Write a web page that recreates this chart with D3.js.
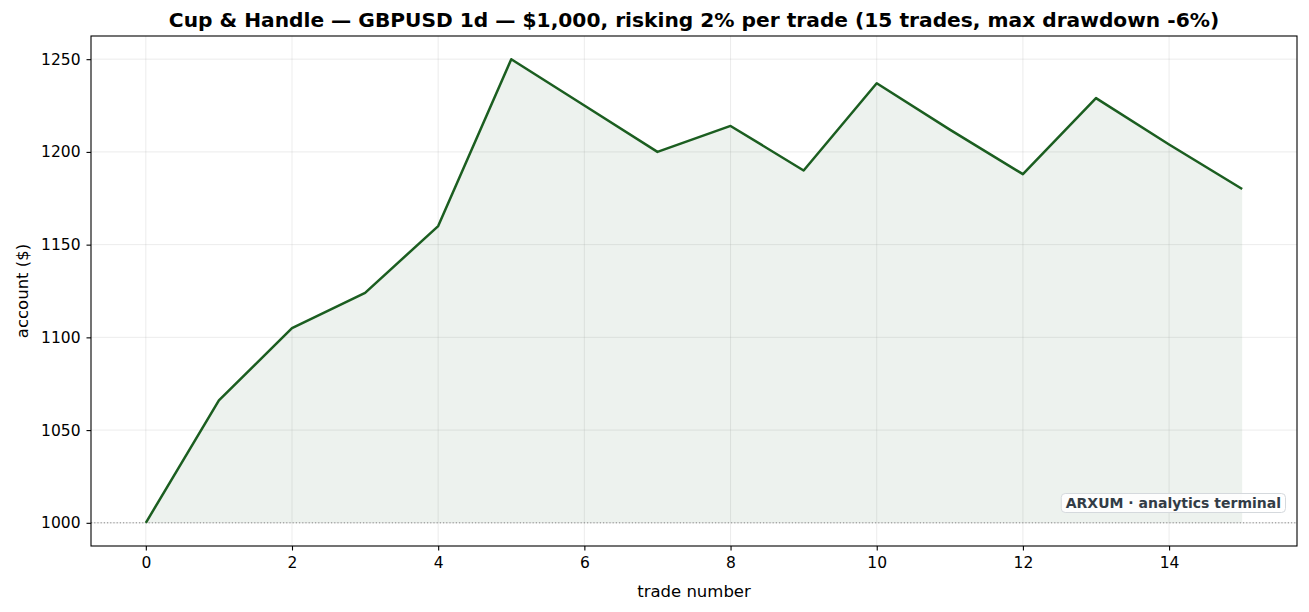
<!DOCTYPE html>
<html>
<head>
<meta charset="utf-8">
<script src="https://cdn.jsdelivr.net/npm/d3@7"></script>
<style>
  body { margin: 0; background: #fff; }
  text { font-family: "DejaVu Sans", sans-serif; }
</style>
</head>
<body>
<div id="chart"></div>
<script>
// equity after each trade
var trades = [0, 1, 2, 3, 4, 5, 6, 7, 8, 9, 10, 11, 12, 13, 14, 15];
var account = [1000, 1066, 1105, 1124, 1160, 1250, 1225, 1200, 1214, 1190, 1237, 1212, 1188, 1229, 1204, 1180];
var xTicks = [0, 2, 4, 6, 8, 10, 12, 14];
var yTicks = [1000, 1050, 1100, 1150, 1200, 1250];
var startBalance = 1000;

var W = 1309, H = 612;
var margin = {top: 36, right: 12, bottom: 66, left: 91},
    width = W - margin.left - margin.right,
    height = H - margin.top - margin.bottom;

var green = "#1b5e20";

var svg = d3.select("#chart")
    .append("svg")
    .attr("width", W)
    .attr("height", H);

var g = svg.append("g")
    .attr("transform", "translate(" + margin.left + "," + margin.top + ")");

var x = d3.scaleLinear()
    .domain([-0.75, 15.75])
    .range([0, width]);

var y = d3.scaleLinear()
    .domain([987.5, 1262.5])
    .range([height, 0]);

// grid
g.append("g").selectAll("line")
    .data(xTicks)
    .enter().append("line")
    .attr("x1", d => x(d)).attr("x2", d => x(d))
    .attr("y1", 0).attr("y2", height)
    .attr("stroke", "#b0b0b0").attr("stroke-opacity", 0.3).attr("stroke-width", 0.8);
g.append("g").selectAll("line")
    .data(yTicks)
    .enter().append("line")
    .attr("x1", 0).attr("x2", width)
    .attr("y1", d => y(d)).attr("y2", d => y(d))
    .attr("stroke", "#b0b0b0").attr("stroke-opacity", 0.3).attr("stroke-width", 0.8);

// fill under curve
var area = d3.area()
    .x((d, i) => x(trades[i]))
    .y0(y(startBalance))
    .y1(d => y(d));
g.append("path")
    .datum(account)
    .attr("d", area)
    .attr("fill", green)
    .attr("fill-opacity", 0.08);

// baseline
g.append("line")
    .attr("x1", 0).attr("x2", width)
    .attr("y1", y(startBalance)).attr("y2", y(startBalance))
    .attr("stroke", "#8a8a8a")
    .attr("stroke-width", 1)
    .attr("stroke-dasharray", "1.2,2");

// equity line
var line = d3.line()
    .x((d, i) => x(trades[i]))
    .y(d => y(d));
g.append("path")
    .datum(account)
    .attr("d", line)
    .attr("fill", "none")
    .attr("stroke", green)
    .attr("stroke-width", 2.5)
    .attr("stroke-linejoin", "round");

// axes
var xAxis = g.append("g")
    .attr("transform", "translate(0," + height + ")")
    .call(d3.axisBottom(x).tickValues(xTicks).tickSize(4.5).tickPadding(6).tickFormat(d3.format("d")));
var yAxis = g.append("g")
    .call(d3.axisLeft(y).tickValues(yTicks).tickSize(4.5).tickPadding(6).tickFormat(d3.format("d")));
[xAxis, yAxis].forEach(function(a) {
    a.attr("font-size", null).attr("font-family", null);
    a.select(".domain").remove();
    a.selectAll("text").style("font-size", "15.5px").attr("fill", "#000");
    a.selectAll("line").attr("stroke", "#000").attr("stroke-width", 1.1);
});

g.append("rect")
    .attr("width", width).attr("height", height)
    .attr("fill", "none").attr("stroke", "#000").attr("stroke-width", 1.1);

// labels
svg.append("text")
    .attr("x", margin.left + width / 2)
    .attr("y", 597)
    .attr("text-anchor", "middle")
    .style("font-size", "16.5px")
    .text("trade number");

svg.append("text")
    .attr("transform", "translate(27.5," + (margin.top + height / 2) + ") rotate(-90)")
    .attr("text-anchor", "middle")
    .style("font-size", "16.5px")
    .text("account ($)");

svg.append("text")
    .attr("x", margin.left + width / 2)
    .attr("y", 27)
    .attr("text-anchor", "middle")
    .style("font-size", "20.2px")
    .attr("font-weight", "bold")
    .text("Cup & Handle \u2014 GBPUSD 1d \u2014 $1,000, risking 2% per trade (15 trades, max drawdown -6%)");

// watermark
var wm = svg.append("g");
var wmText = wm.append("text")
    .attr("x", 1281)
    .attr("y", 508)
    .attr("text-anchor", "end")
    .style("font-size", "14px")
    .attr("font-weight", "bold")
    .attr("fill", "#323c46")
    .text("ARXUM \u00b7 analytics terminal");
var bb = wmText.node().getBBox();
wm.insert("rect", "text")
    .attr("x", bb.x - 4.5).attr("y", bb.y - 1.5)
    .attr("width", bb.width + 9).attr("height", bb.height + 3)
    .attr("rx", 4)
    .attr("fill", "#fff").attr("fill-opacity", 0.85)
    .attr("stroke", "#d5d9dd").attr("stroke-width", 1);
</script>
</body>
</html>
